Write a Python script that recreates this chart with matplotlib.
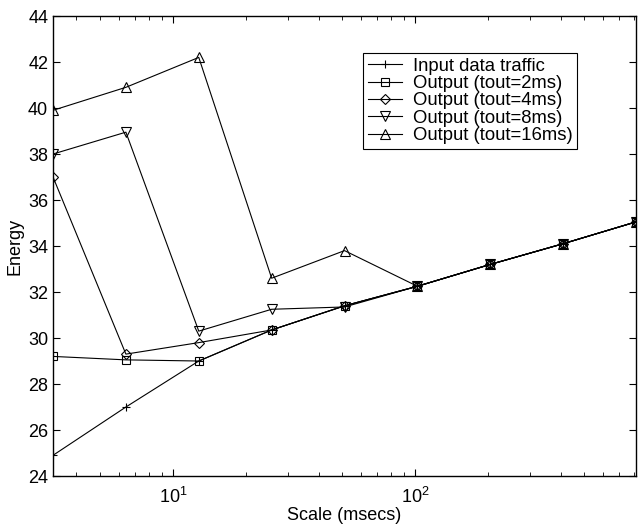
import matplotlib
matplotlib.use('Agg')
import matplotlib.pyplot as plt

plt.rcParams['font.family'] = ['Liberation Sans', 'DejaVu Sans']
plt.rcParams['mathtext.default'] = 'regular'

# Data
scale = [3.2, 6.4, 12.8, 25.6, 51.2, 102.4, 204.8, 409.6, 819.2]
input_traffic = [24.9, 27.0, 29.0, 30.35, 31.4, 32.25, 33.2, 34.1, 35.05]
out_2ms = [29.2, 29.05, 29.0, 30.35, 31.4, 32.25, 33.2, 34.1, 35.05]
out_4ms = [37.0, 29.3, 29.8, 30.35, 31.4, 32.25, 33.2, 34.1, 35.05]
out_8ms = [38.0, 38.95, 30.3, 31.25, 31.35, 32.25, 33.2, 34.1, 35.05]
out_16ms = [39.9, 40.9, 42.2, 32.6, 33.8, 32.25, 33.2, 34.1, 35.05]

series = [
    (input_traffic, '+', 5.5, 'Input data traffic'),
    (out_2ms, 's', 5.5, 'Output (tout=2ms)'),
    (out_4ms, 'D', 5, 'Output (tout=4ms)'),
    (out_8ms, 'v', 6.5, 'Output (tout=8ms)'),
    (out_16ms, '^', 6.5, 'Output (tout=16ms)'),
]

fig = plt.figure(figsize=(6.38, 5.25), dpi=100)
ax = fig.add_axes([0.0831, 0.0933, 0.9138, 0.8762])

for vals, mk, ms, lab in series:
    ax.plot(scale, vals, color='black', linewidth=0.8, marker=mk,
            markersize=ms, markerfacecolor='none', markeredgecolor='black',
            markeredgewidth=0.8, label=lab)

ax.set_xscale('log')
ax.set_xlim(3.2, 819.2)
ax.set_ylim(24, 44)
ax.set_yticks(range(24, 45, 2))
ax.tick_params(which='both', direction='in', top=True, right=True, labelsize=13)
ax.tick_params(which='major', length=5)
ax.tick_params(which='minor', length=3)
ax.tick_params(axis='x', which='both', pad=7.5)
for s in ax.spines.values():
    s.set_linewidth(1.0)

ax.set_xlabel('Scale (msecs)', fontsize=13, labelpad=0)
ax.set_ylabel('Energy', fontsize=13, labelpad=3)

leg = ax.legend(loc='upper left', bbox_to_anchor=(0.532, 0.9196), fontsize=13.3,
                fancybox=False, edgecolor='black', framealpha=1,
                handlelength=1.85, borderpad=0.25, labelspacing=0.02,
                handletextpad=0.6, borderaxespad=0)
leg.get_frame().set_linewidth(0.8)

fig.savefig('out.png', dpi=100)
